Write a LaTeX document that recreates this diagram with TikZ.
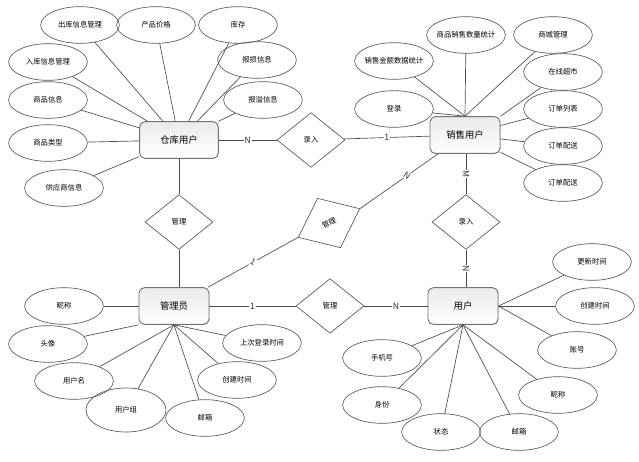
\documentclass[tikz,border=0pt]{standalone}
\usepackage{fontspec}
\usepackage{amsmath}
\usetikzlibrary{shapes.geometric,shadows}
\newfontfamily\cjk{Noto Sans CJK SC}

\begin{document}
\begin{tikzpicture}[x=0.75pt,y=0.75pt,yscale=-1,xscale=1,
  entity/.style={draw=black!55, line width=0.7pt, rounded corners=4pt, top color=black!8, bottom color=white, minimum width=52.5pt, minimum height=27.5pt, inner sep=0pt, font=\cjk\fontsize{7}{8}\selectfont, drop shadow={opacity=0.25, shadow xshift=0.6pt, shadow yshift=-0.6pt}},
  attr/.style={ellipse, draw=black!65, line width=0.5pt, minimum width=59pt, minimum height=27.5pt, inner xsep=-6pt, inner ysep=0pt, font=\cjk\fontsize{5.5}{6}\selectfont},
  rel/.style={diamond, draw=black!65, fill=white, line width=0.5pt, minimum width=51pt, minimum height=41pt, inner sep=0pt, font=\cjk\fontsize{5.5}{6}\selectfont},
  card/.style={fill=white, inner sep=0.6pt, font=\cjk\fontsize{6.5}{7}\selectfont, text=black!80},
  link/.style={draw=black!70, line width=0.5pt}]
\useasboundingbox (0,0) rectangle (639,461);

%Shape: Entities
\node[entity, minimum width=59pt] (ckyh) at (179,140) {仓库用户};
\node[entity] (xsyh) at (465,135) {销售用户};
\node[entity] (gly) at (174,306) {管理员};
\node[entity] (yh) at (463,306) {用户};

%Shape: Relations
\node[rel] (lr1) at (311,140) {录入};
\node[rel] (gl1) at (179,222) {管理};
\node[rel, rotate=25] (gl2) at (329,223) {管理};
\node[rel] (lr2) at (466,222) {录入};
\node[rel] (gl3) at (330,306) {管理};

%Straight Lines: relations
\draw[link] (ckyh) -- node[card] {N} (lr1);
\draw[link] (lr1) -- node[card] {1} (xsyh);
\draw[link] (ckyh) -- (gl1);
\draw[link] (gl1) -- (gl1 |- gly.north);
\draw[link] (gly) -- node[card, sloped] {1} (gl2.west);
\draw[link] (gl2.east) -- node[card, sloped, pos=0.6] {N} (xsyh);
\draw[link] (lr2) -- node[card, sloped] {M} (lr2 |- xsyh.south);
\draw[link] (lr2 |- yh.north) -- node[card, sloped] {N} (lr2);
\draw[link] (gly) -- node[card] {1} (gl3);
\draw[link] (gl3) -- node[card] {N} (yh);

%Shape: Ellipse -- 仓库用户
\node[attr] (ck1) at (80,25) {出库信息管理};
\node[attr] (ck2) at (156,25) {产品价格};
\node[attr] (ck3) at (238,25) {库存};
\node[attr] (ck4) at (48,62) {入库信息管理};
\node[attr] (ck5) at (257,60) {报损信息};
\node[attr] (ck6) at (48,100) {商品信息};
\node[attr] (ck7) at (263,100) {报溢信息};
\node[attr] (ck8) at (48,143) {商品类型};
\node[attr] (ck9) at (64,188) {供应商信息};
\draw[link] (ck1) -- (ckyh);
\draw[link] (ck2) -- (ckyh);
\draw[link] (ck3) -- (ckyh);
\draw[link] (ck4) -- (ckyh);
\draw[link] (ck5) -- (ckyh);
\draw[link] (ck6) -- (ckyh);
\draw[link] (ck7) -- (ckyh);
\draw[link] (ck8) -- (ckyh);
\draw[link] (ck9) -- (ckyh);

%Shape: Ellipse -- 销售用户
\node[attr] (xs1) at (394,61) {销售金额数据统计};
\node[attr] (xs2) at (466,35) {商品销售数量统计};
\node[attr] (xs3) at (553,35) {商城管理};
\node[attr] (xs4) at (563,72) {在线超市};
\node[attr] (xs5) at (394,109) {登录};
\node[attr] (xs6) at (563,109) {订单列表};
\node[attr] (xs7) at (563,146) {订单配送};
\node[attr] (xs8) at (563,183) {订单配送};
\draw[link] (xs1) -- (xsyh.north);
\draw[link] (xs2) -- (xsyh.north);
\draw[link] (xs3) -- (xsyh.north);
\draw[link] (xs4) -- (xsyh.north east);
\draw[link] (xs5) -- (xsyh.north);
\draw[link] (xs6) -- (xsyh);
\draw[link] (xs7) -- (xsyh);
\draw[link] (xs8) -- (xsyh);

%Shape: Ellipse -- 管理员
\node[attr] (gy1) at (64,306) {昵称};
\node[attr] (gy2) at (48,344) {头像};
\node[attr] (gy3) at (74,381) {用户名};
\node[attr, minimum width=60pt, minimum height=33pt] (gy4) at (126,410) {用户组};
\node[attr] (gy5) at (205,418) {邮箱};
\node[attr] (gy6) at (237,380) {创建时间};
\node[attr] (gy7) at (262,343) {上次登录时间};
\draw[link] (gy1) -- (gly);
\draw[link] (gy2) -- (gly.south west);
\draw[link] (gy3) -- (gly.south);
\draw[link] (gy4) -- (gly.south);
\draw[link] (gy5) -- (gly.south);
\draw[link] (gy6) -- (gly.south);
\draw[link] (gy7) -- (gly.south);

%Shape: Ellipse -- 用户
\node[attr] (yh1) at (592,262) {更新时间};
\node[attr] (yh2) at (595,306) {创建时间};
\node[attr] (yh3) at (577,350) {账号};
\node[attr] (yh4) at (558,395) {昵称};
\node[attr] (yh5) at (519,432) {邮箱};
\node[attr] (yh6) at (441,432) {状态};
\node[attr] (yh7) at (382,405) {身份};
\node[attr] (yh8) at (382,358) {手机号};
\draw[link] (yh1) -- (yh.east);
\draw[link] (yh2) -- (yh.east);
\draw[link] (yh3) -- (yh.east);
\draw[link] (yh4) -- (yh.south);
\draw[link] (yh5) -- (yh.south);
\draw[link] (yh6) -- (yh.south);
\draw[link] (yh7) -- (yh.south);
\draw[link] (yh8) -- (yh.south);

\end{tikzpicture}
\end{document}
